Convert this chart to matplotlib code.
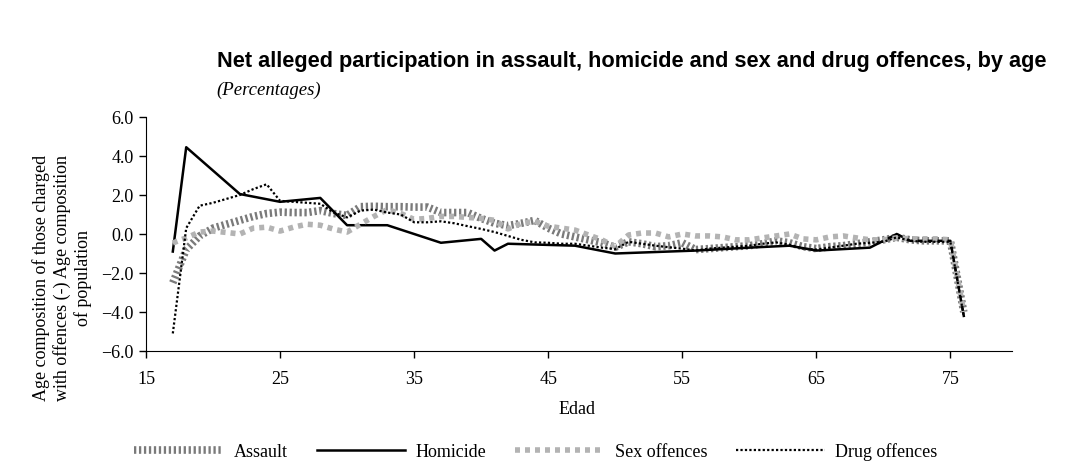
import matplotlib
matplotlib.use("Agg")
import matplotlib.pyplot as plt
from matplotlib.ticker import FuncFormatter

ages = list(range(17, 77))

assault = [-2.5, -0.8, -0.1, 0.3, 0.5, 0.7, 0.9, 1.05, 1.12, 1.1,
           1.1, 1.2, 1.05, 0.95, 1.4, 1.42, 1.4, 1.4, 1.38, 1.38,
           1.1, 1.1, 1.1, 0.8, 0.55, 0.43, 0.55, 0.7, 0.3, 0.0,
           -0.15, -0.3, -0.45, -0.68, -0.4, -0.5, -0.65, -0.6, -0.45, -0.8,
           -0.75, -0.7, -0.65, -0.6, -0.5, -0.35, -0.45, -0.65, -0.75, -0.65,
           -0.6, -0.5, -0.4, -0.3, -0.17, -0.3, -0.35, -0.35, -0.35, -4.0]

sex_offences = [-0.46, -0.2, 0.1, 0.15, 0.08, 0.0, 0.3, 0.35, 0.15, 0.35,
                0.5, 0.45, 0.25, 0.1, 0.5, 0.9, 1.25, 1.05, 0.75, 0.8,
                0.9, 0.9, 0.85, 0.8, 0.7, 0.26, 0.55, 0.65, 0.4, 0.3,
                0.2, -0.05, -0.3, -0.65, -0.05, 0.05, 0.05, -0.15, 0.0, -0.1,
                -0.1, -0.15, -0.3, -0.3, -0.2, -0.1, 0.0, -0.25, -0.3, -0.15,
                -0.1, -0.2, -0.3, -0.3, -0.2, -0.25, -0.25, -0.25, -0.3, -4.0]

drug_offences = [-5.1, 0.3, 1.45, 1.6, 1.8, 2.0, 2.3, 2.55, 1.7, 1.65,
                 1.6, 1.55, 1.1, 0.85, 1.2, 1.25, 1.1, 1.0, 0.6, 0.6,
                 0.65, 0.55, 0.4, 0.26, 0.1, -0.1, -0.3, -0.43, -0.45, -0.5,
                 -0.5, -0.6, -0.7, -0.77, -0.4, -0.5, -0.6, -0.68, -0.75, -0.85,
                 -0.75, -0.7, -0.65, -0.6, -0.5, -0.43, -0.55, -0.75, -0.8, -0.7,
                 -0.6, -0.5, -0.45, -0.4, -0.17, -0.35, -0.4, -0.4, -0.4, -4.2]

homicide_ages = [17, 18, 22, 25, 28, 30, 33, 37, 40, 41, 42, 47, 50, 56, 60,
                 63, 65, 69, 71, 72, 75, 76]
homicide = [-0.9, 4.45, 2.05, 1.65, 1.85, 0.45, 0.45, -0.45, -0.25, -0.85,
            -0.5, -0.6, -1.0, -0.85, -0.7, -0.6, -0.85, -0.7, 0.0, -0.35,
            -0.35, -4.2]

x_ticks = [15, 25, 35, 45, 55, 65, 75]
y_ticks = [-6.0, -4.0, -2.0, 0.0, 2.0, 4.0, 6.0]

serif = ["Liberation Serif", "DejaVu Serif"]
plt.rcParams["font.family"] = serif

fig = plt.figure(figsize=(10.68, 4.64), dpi=100)
ax = fig.add_axes([0.1367, 0.2414, 0.8109, 0.5043])

l1, = ax.plot(ages, assault, color="#7a7a7a", lw=5.5,
              linestyle=(0, (0.3, 0.35)), dash_capstyle="butt",
              label="Assault")
l2, = ax.plot(homicide_ages, homicide, color="black", lw=1.8,
              label="Homicide")
l3, = ax.plot(ages, sex_offences, color="#b3b3b3", lw=4,
              linestyle=(0, (0.9, 0.9)), dash_capstyle="butt",
              label="Sex offences")
l4, = ax.plot(ages, drug_offences, color="black", lw=1.6,
              linestyle=(0, (1, 1)), dash_capstyle="butt",
              label="Drug offences")

ax.set_xlim(15, 79.6)
ax.set_ylim(-6, 6)
ax.set_xticks(x_ticks)
ax.set_yticks(y_ticks)
ax.yaxis.set_major_formatter(FuncFormatter(lambda v, p: f"{v:.1f}".replace("-", "\u2212")))
ax.spines["top"].set_visible(False)
ax.spines["right"].set_visible(False)
ax.tick_params(direction="out", length=5, width=1, labelsize=13)
ax.tick_params(axis="x", pad=9)
ax.tick_params(axis="y", pad=4)

fig.text(0.5407, 1 - 410 / 464, "Edad", fontsize=13, ha="center", va="center")
fig.text(62 / 1068, 1 - 278 / 464,
         "Age composition of those charged\nwith offences (-) Age composition\nof population",
         fontsize=13, linespacing=1.25, rotation=90, ha="center", va="center",
         multialignment="center")

fig.text(0.203, 1 - 62 / 464, "Net alleged participation in assault, homicide and sex and drug offences, by age",
         fontsize=15.7, fontweight="bold", family=["Liberation Sans", "DejaVu Sans"],
         ha="left", va="center")
fig.text(0.203, 1 - 90 / 464, "(Percentages)", fontsize=13.5, style="italic",
         ha="left", va="center")

fig.legend(handles=[l1, l2, l3, l4], loc="center", bbox_to_anchor=(536 / 1068, 1 - 452 / 464),
           ncol=4, frameon=False, fontsize=13, handlelength=4.9,
           columnspacing=1.6, handletextpad=0.6)

fig.savefig("out.png", dpi=100)
